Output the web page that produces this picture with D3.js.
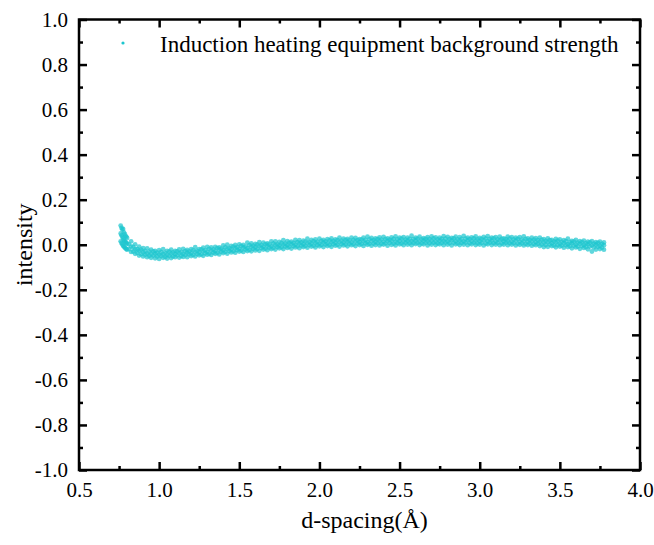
<!DOCTYPE html>
<html>
<head>
<meta charset="utf-8">
<script src="https://cdn.jsdelivr.net/npm/d3@7"></script>
<style>
  body { margin: 0; background: #fff; }
</style>
</head>
<body>
<svg id="canvas" width="654" height="545"></svg>
<script>
// tick labels
let xTicks = [0.5, 1.0, 1.5, 2.0, 2.5, 3.0, 3.5, 4.0]
let xMinor = [0.75, 1.25, 1.75, 2.25, 2.75, 3.25, 3.75]
let yTicks = [-1.0, -0.8, -0.6, -0.4, -0.2, 0.0, 0.2, 0.4, 0.6, 0.8, 1.0]
let yMinor = [-0.9, -0.7, -0.5, -0.3, -0.1, 0.1, 0.3, 0.5, 0.7, 0.9]

let legendLabel = 'Induction heating equipment background strength'

// d-spacing positions of the measured points (first grid)
let dSpacing = [0.760, 0.765, 0.770, 0.775, 0.780, 0.785, 0.790, 0.795,
  0.800, 0.825, 0.850, 0.875, 0.900, 0.925, 0.950, 0.975, 1.000, 1.025, 1.050, 1.075,
  1.100, 1.125, 1.150, 1.175, 1.200, 1.225, 1.250, 1.275, 1.300, 1.325, 1.350, 1.375,
  1.400, 1.425, 1.450, 1.475, 1.500, 1.525, 1.550, 1.575, 1.600, 1.625, 1.650, 1.675,
  1.700, 1.725, 1.750, 1.775, 1.800, 1.825, 1.850, 1.875, 1.900, 1.925, 1.950, 1.975,
  2.000, 2.025, 2.050, 2.075, 2.100, 2.125, 2.150, 2.175, 2.200, 2.225, 2.250, 2.275,
  2.300, 2.325, 2.350, 2.375, 2.400, 2.425, 2.450, 2.475, 2.500, 2.525, 2.550, 2.575,
  2.600, 2.625, 2.650, 2.675, 2.700, 2.725, 2.750, 2.775, 2.800, 2.825, 2.850, 2.875,
  2.900, 2.925, 2.950, 2.975, 3.000, 3.025, 3.050, 3.075, 3.100, 3.125, 3.150, 3.175,
  3.200, 3.225, 3.250, 3.275, 3.300, 3.325, 3.350, 3.375, 3.400, 3.425, 3.450, 3.475,
  3.500, 3.525, 3.550, 3.575, 3.600, 3.625, 3.650, 3.675, 3.700, 3.725, 3.750, 3.775]

// intensity readings on the first grid: upper, middle and lower part of the band
let intensityUpper = [0.085, 0.075, 0.068, 0.070, 0.055, 0.048, 0.040, 0.035,
  0.030, 0.015, 0.002, -0.008, -0.015, -0.016, -0.022, -0.027, -0.024, -0.020, -0.027, -0.022,
  -0.027, -0.021, -0.018, -0.023, -0.019, -0.011, -0.019, -0.013, -0.009, -0.012, -0.009, -0.012,
  -0.003, 0.000, -0.005, -0.001, 0.002, -0.001, 0.009, 0.006, 0.004, 0.011, 0.009, 0.006,
  0.015, 0.015, 0.013, 0.020, 0.016, 0.014, 0.021, 0.020, 0.018, 0.027, 0.021, 0.024,
  0.027, 0.021, 0.025, 0.028, 0.024, 0.031, 0.027, 0.026, 0.032, 0.030, 0.025, 0.032,
  0.036, 0.030, 0.028, 0.033, 0.035, 0.028, 0.033, 0.037, 0.031, 0.034, 0.032, 0.040,
  0.031, 0.036, 0.029, 0.034, 0.037, 0.033, 0.031, 0.038, 0.035, 0.030, 0.036, 0.034,
  0.039, 0.032, 0.033, 0.037, 0.030, 0.035, 0.038, 0.031, 0.034, 0.036, 0.028, 0.036,
  0.034, 0.031, 0.034, 0.037, 0.028, 0.031, 0.029, 0.032, 0.025, 0.028, 0.022, 0.026,
  0.024, 0.020, 0.027, 0.017, 0.021, 0.016, 0.018, 0.014, 0.016, 0.011, 0.014, 0.010]

let intensityMiddle = [0.050, 0.042, 0.035, 0.028, 0.022, 0.016, 0.012, 0.008,
  0.004, -0.008, -0.020, -0.027, -0.033, -0.038, -0.041, -0.040, -0.044, -0.041, -0.045, -0.040,
  -0.042, -0.037, -0.040, -0.035, -0.037, -0.032, -0.034, -0.029, -0.031, -0.026, -0.028, -0.022,
  -0.024, -0.019, -0.021, -0.015, -0.018, -0.012, -0.015, -0.009, -0.012, -0.006, -0.009, -0.004,
  -0.007, -0.001, -0.004, 0.001, -0.002, 0.003, 0.000, 0.005, 0.002, 0.007, 0.004, 0.008,
  0.005, 0.010, 0.006, 0.011, 0.008, 0.012, 0.009, 0.013, 0.010, 0.014, 0.011, 0.015,
  0.012, 0.016, 0.013, 0.017, 0.014, 0.016, 0.018, 0.014, 0.017, 0.015, 0.018, 0.016,
  0.019, 0.015, 0.018, 0.016, 0.019, 0.015, 0.018, 0.017, 0.015, 0.019, 0.016, 0.018,
  0.015, 0.019, 0.016, 0.018, 0.015, 0.019, 0.016, 0.018, 0.015, 0.019, 0.015, 0.017,
  0.014, 0.018, 0.014, 0.016, 0.013, 0.015, 0.012, 0.013, 0.009, 0.011, 0.007, 0.010,
  0.005, 0.007, 0.003, 0.006, 0.001, 0.004, -0.001, 0.002, -0.003, 0.000, -0.004, -0.002]

let intensityLower = [0.015, 0.008, 0.002, -0.004, -0.008, -0.012, -0.016, -0.019,
  -0.022, -0.032, -0.040, -0.048, -0.052, -0.055, -0.058, -0.060, -0.063, -0.058, -0.061, -0.059,
  -0.055, -0.057, -0.054, -0.055, -0.050, -0.052, -0.047, -0.049, -0.044, -0.045, -0.040, -0.043,
  -0.037, -0.039, -0.034, -0.035, -0.030, -0.032, -0.028, -0.029, -0.025, -0.027, -0.021, -0.024,
  -0.019, -0.021, -0.016, -0.019, -0.014, -0.017, -0.012, -0.015, -0.010, -0.013, -0.008, -0.012,
  -0.007, -0.010, -0.006, -0.009, -0.004, -0.008, -0.003, -0.007, -0.002, -0.006, -0.001, -0.005,
  0.000, -0.004, -0.001, -0.003, 0.001, -0.004, 0.000, -0.003, 0.002, -0.002, 0.001, -0.002,
  0.003, -0.001, 0.002, -0.003, 0.001, -0.001, 0.002, -0.002, 0.001, -0.003, 0.002, -0.001,
  0.001, -0.002, 0.002, -0.001, 0.001, -0.003, 0.002, -0.001, 0.001, -0.002, 0.001, -0.002,
  0.001, -0.003, 0.000, -0.003, -0.001, -0.004, -0.002, -0.006, -0.010, -0.009, -0.006, -0.011,
  -0.008, -0.013, -0.010, -0.016, -0.012, -0.018, -0.014, -0.020, -0.030, -0.021, -0.019, -0.022]

// second, interleaved grid of measured points
let dSpacingB = [0.812, 0.838, 0.863, 0.887, 0.912, 0.938, 0.963, 0.987,
  1.012, 1.038, 1.063, 1.087, 1.112, 1.138, 1.163, 1.187,
  1.212, 1.238, 1.263, 1.287, 1.312, 1.338, 1.363, 1.387,
  1.412, 1.438, 1.463, 1.487, 1.512, 1.538, 1.563, 1.587,
  1.612, 1.638, 1.663, 1.687, 1.712, 1.738, 1.763, 1.787,
  1.812, 1.838, 1.863, 1.887, 1.912, 1.938, 1.963, 1.987,
  2.012, 2.038, 2.063, 2.087, 2.112, 2.138, 2.163, 2.187,
  2.212, 2.238, 2.263, 2.287, 2.312, 2.338, 2.363, 2.387,
  2.412, 2.438, 2.463, 2.487, 2.512, 2.538, 2.563, 2.587,
  2.612, 2.638, 2.663, 2.687, 2.712, 2.738, 2.763, 2.787,
  2.812, 2.838, 2.863, 2.887, 2.912, 2.938, 2.963, 2.987,
  3.012, 3.038, 3.063, 3.087, 3.112, 3.138, 3.163, 3.187,
  3.212, 3.238, 3.263, 3.287, 3.312, 3.338, 3.363, 3.387,
  3.412, 3.438, 3.463, 3.487, 3.512, 3.538, 3.563, 3.587,
  3.612, 3.638, 3.663, 3.687, 3.712, 3.738, 3.763]

let intensityB1 = [0.002, -0.010, -0.020, -0.022, -0.028, -0.031, -0.030, -0.035,
  -0.033, -0.036, -0.031, -0.034, -0.030, -0.033, -0.028, -0.029,
  -0.025, -0.027, -0.021, -0.024, -0.018, -0.021, -0.015, -0.017,
  -0.012, -0.015, -0.008, -0.011, -0.005, -0.008, -0.002, -0.004,
  0.000, -0.002, 0.003, 0.001, 0.005, 0.002, 0.007, 0.005,
  0.009, 0.008, 0.012, 0.010, 0.014, 0.012, 0.016, 0.013,
  0.017, 0.015, 0.019, 0.017, 0.020, 0.018, 0.021, 0.019,
  0.022, 0.020, 0.023, 0.021, 0.024, 0.022, 0.025, 0.023,
  0.025, 0.023, 0.026, 0.024, 0.027, 0.023, 0.026, 0.025,
  0.027, 0.024, 0.026, 0.025, 0.028, 0.024, 0.026, 0.027,
  0.025, 0.028, 0.024, 0.026, 0.027, 0.025, 0.028, 0.024,
  0.026, 0.027, 0.025, 0.028, 0.024, 0.026, 0.025, 0.027,
  0.024, 0.026, 0.023, 0.025, 0.021, 0.023, 0.020, 0.022,
  0.017, 0.020, 0.015, 0.018, 0.013, 0.016, 0.011, 0.014,
  0.009, 0.012, 0.007, 0.010, 0.005, 0.008, 0.004]

let intensityB2 = [-0.019, -0.030, -0.036, -0.042, -0.044, -0.049, -0.048, -0.052,
  -0.050, -0.054, -0.049, -0.052, -0.047, -0.050, -0.046, -0.043,
  -0.045, -0.041, -0.043, -0.038, -0.039, -0.035, -0.036, -0.031,
  -0.032, -0.028, -0.029, -0.024, -0.026, -0.021, -0.023, -0.018,
  -0.019, -0.015, -0.017, -0.013, -0.014, -0.010, -0.012, -0.008,
  -0.009, -0.006, -0.007, -0.004, -0.005, -0.002, -0.004, -0.001,
  -0.002, 0.001, -0.001, 0.002, 0.000, 0.003, 0.001, 0.004,
  0.002, 0.005, 0.003, 0.006, 0.004, 0.005, 0.007, 0.004,
  0.006, 0.008, 0.005, 0.008, 0.006, 0.009, 0.007, 0.008,
  0.008, 0.006, 0.009, 0.007, 0.009, 0.006, 0.008, 0.010,
  0.007, 0.009, 0.006, 0.008, 0.010, 0.007, 0.009, 0.006,
  0.008, 0.006, 0.009, 0.007, 0.008, 0.006, 0.009, 0.007,
  0.007, 0.005, 0.006, 0.004, 0.005, 0.003, 0.004, 0.001,
  -0.001, 0.001, -0.003, -0.001, -0.004, -0.002, -0.006, -0.004,
  -0.008, -0.006, -0.010, -0.008, -0.012, -0.009, -0.013]

let canvas = d3.select('#canvas')
let margin = {top: 19.5, right: 14, bottom: 75, left: 79}
let width = 654 - margin.left - margin.right
let height = 545 - margin.top - margin.bottom
let dotColor = '#1cc6cf'
let serif = '"Liberation Serif", "Times New Roman", serif'

let xScale = d3.scaleLinear().domain([0.5, 4.0]).range([margin.left, margin.left + width])
let yScale = d3.scaleLinear().domain([-1.0, 1.0]).range([margin.top + height, margin.top])
let fmt = (d) => d.toFixed(1)

let points = []
dSpacing.forEach((d, i) => {
  points.push([d, intensityUpper[i]])
  points.push([d, intensityMiddle[i]])
  points.push([d, intensityLower[i]])
})
dSpacingB.forEach((d, i) => {
  points.push([d, intensityB1[i]])
  points.push([d, intensityB2[i]])
})

// data points
canvas.append('g')
  .selectAll('circle')
  .data(points)
  .enter()
  .append('circle')
  .attr('cx', (p) => xScale(p[0]))
  .attr('cy', (p) => yScale(p[1]))
  .attr('r', 2.4)
  .attr('fill', dotColor)
  .attr('fill-opacity', 0.7)

let styleAxis = (g) => {
  g.select('.domain').remove()
  g.selectAll('line').attr('stroke', '#000').attr('stroke-width', 2.5)
  g.selectAll('text')
    .attr('fill', '#000')
    .style('font-family', serif)
    .style('font-size', '21px')
}

let atBottom = 'translate(0,' + (margin.top + height) + ')'
let atTop = 'translate(0,' + margin.top + ')'
let atLeft = 'translate(' + margin.left + ',0)'
let atRight = 'translate(' + (margin.left + width) + ',0)'

canvas.append('g').attr('transform', atBottom)
  .call(d3.axisBottom(xScale).tickValues(xTicks).tickFormat(fmt).tickSize(-8).tickPadding(12))
  .call(styleAxis)
canvas.append('g').attr('transform', atBottom)
  .call(d3.axisBottom(xScale).tickValues(xMinor).tickFormat('').tickSize(-4))
  .call(styleAxis)
canvas.append('g').attr('transform', atTop)
  .call(d3.axisTop(xScale).tickValues(xTicks).tickFormat('').tickSize(-8))
  .call(styleAxis)
canvas.append('g').attr('transform', atTop)
  .call(d3.axisTop(xScale).tickValues(xMinor).tickFormat('').tickSize(-4))
  .call(styleAxis)

canvas.append('g').attr('transform', atLeft)
  .call(d3.axisLeft(yScale).tickValues(yTicks).tickFormat(fmt).tickSize(-8).tickPadding(11))
  .call(styleAxis)
canvas.append('g').attr('transform', atLeft)
  .call(d3.axisLeft(yScale).tickValues(yMinor).tickFormat('').tickSize(-4))
  .call(styleAxis)
canvas.append('g').attr('transform', atRight)
  .call(d3.axisRight(yScale).tickValues(yTicks).tickFormat('').tickSize(-8))
  .call(styleAxis)
canvas.append('g').attr('transform', atRight)
  .call(d3.axisRight(yScale).tickValues(yMinor).tickFormat('').tickSize(-4))
  .call(styleAxis)

// frame
canvas.append('rect')
  .attr('x', margin.left).attr('y', margin.top)
  .attr('width', width).attr('height', height)
  .attr('fill', 'none').attr('stroke', '#000').attr('stroke-width', 2.5)

// axis titles
canvas.append('text')
  .attr('x', margin.left + width / 2 + 5)
  .attr('y', 528)
  .attr('text-anchor', 'middle')
  .style('font-family', serif)
  .style('font-size', '24px')
  .text('d-spacing(Å)')

canvas.append('text')
  .attr('transform', 'translate(32,' + (margin.top + height / 2) + ') rotate(-90)')
  .attr('text-anchor', 'middle')
  .style('font-family', serif)
  .style('font-size', '24px')
  .text('intensity')

// legend
canvas.append('circle')
  .attr('cx', 123).attr('cy', 43).attr('r', 1.6)
  .attr('fill', dotColor)
canvas.append('text')
  .attr('x', 160).attr('y', 52)
  .style('font-family', serif)
  .style('font-size', '23px')
  .text(legendLabel)
</script>
</body>
</html>
